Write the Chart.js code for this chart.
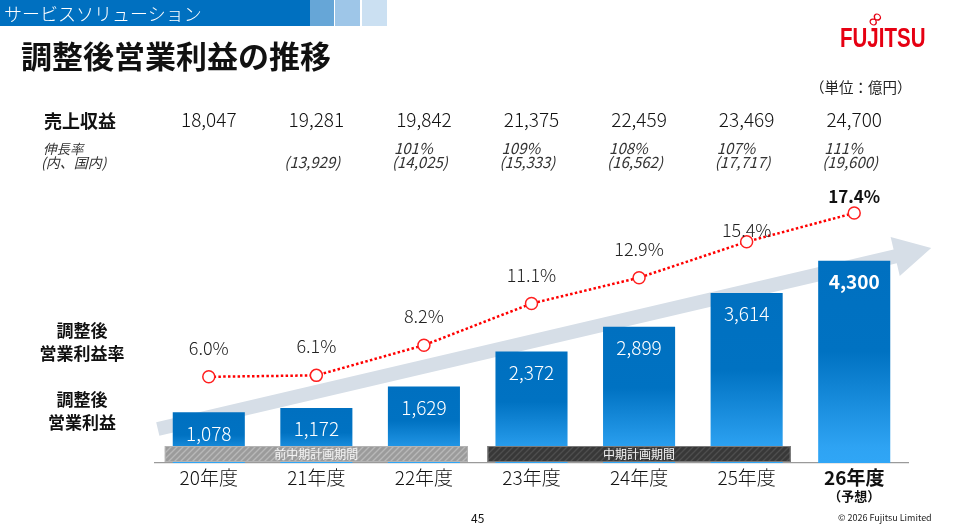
<!DOCTYPE html>
<html lang="ja">
<head>
<meta charset="utf-8">
<title>調整後営業利益の推移</title>
<script src="https://cdn.jsdelivr.net/npm/chart.js@4.4.1/dist/chart.umd.min.js"></script>
<style>
  body { margin: 0; background: #fff; font-family: "Noto Sans CJK JP", "Noto Sans", sans-serif; }
  #page { position: relative; width: 957px; height: 532px; overflow: hidden; }
  #chartBox { position: absolute; left: 0; top: 0; width: 957px; height: 532px; }
  .t { position: absolute; white-space: nowrap; color: #111; }
  .band { position: absolute; top: 0; height: 26px; }
</style>
</head>
<body>
<div id="page">
  <div id="chartBox"><canvas id="profit__chart"></canvas></div>

  <div class="band" style="left:0;width:310px;background:#0070C0;"></div>
  <div class="band" style="left:310px;width:24px;background:#66A6D7;"></div>
  <div class="band" style="left:335px;width:25px;background:#9EC6E8;"></div>
  <div class="band" style="left:362px;width:25px;background:#CBE0F2;"></div>
  <div class="t" style="left:4px;top:1px;font-size:18px;line-height:24px;color:#fff;font-weight:300;">サービスソリューション</div>

  <div class="t" style="left:21px;top:35px;font-size:31px;line-height:40px;font-weight:700;">調整後営業利益の推移</div>

  <div class="t" style="left:840px;top:22px;font-family:'Liberation Sans',sans-serif;font-weight:700;font-size:27px;line-height:32px;color:#E60012;transform:scaleX(0.76);transform-origin:0 0;">FUJITSU</div>
  <div class="t" style="left:866px;top:9px;font-family:'DejaVu Sans',sans-serif;font-size:21px;line-height:20px;color:#E60012;transform:rotate(-50deg);">∞</div>

  <div class="t" style="left:810px;top:77px;font-size:14.5px;line-height:20px;color:#222;">（単位：億円）</div>

  <div class="t" style="left:44px;top:109px;font-size:18px;line-height:22px;font-weight:700;">売上収益</div>
  <div class="t" style="left:43px;top:140px;font-size:13.5px;line-height:16px;font-style:italic;color:#333;">伸長率</div>
  <div class="t" style="left:41px;top:154px;font-size:14px;line-height:16px;font-style:italic;color:#333;">(内、国内)</div>

  <div class="t" style="left:30px;top:318px;width:104px;text-align:center;font-size:17px;line-height:23px;font-weight:700;">調整後<br>営業利益率</div>
  <div class="t" style="left:30px;top:387px;width:104px;text-align:center;font-size:17px;line-height:23px;font-weight:700;">調整後<br>営業利益</div>

  <div class="t" style="left:471px;top:510px;font-size:12px;line-height:16px;">45</div>
  <div class="t" style="left:838px;top:512px;font-size:9px;line-height:12px;color:#222;">© 2026 Fujitsu Limited</div>
</div>

<script>
// data
const categories = ['20年度', '21年度', '22年度', '23年度', '24年度', '25年度', '26年度'];
const adjProfit = [1078, 1172, 1629, 2372, 2899, 3614, 4300];
const adjMargin = [6.0, 6.1, 8.2, 11.1, 12.9, 15.4, 17.4];
const revenue = [18047, 19281, 19842, 21375, 22459, 23469, 24700];
const growthPct = [null, null, 101, 109, 108, 107, 111];
const domesticRev = [null, 13929, 14025, 15333, 16562, 17717, 19600];
const periodLabels = ['前中期計画期間', '中期計画期間'];
const periodRanges = [[0, 2], [3, 5]];

const FONT = '"Noto Sans CJK JP", "Noto Sans", sans-serif';
const fmt = (v) => v.toLocaleString('en-US');
const fmtPct = (v) => v.toFixed(1) + '%';

function stripePattern(ctx, base, stripe) {
    var c = document.createElement('canvas');
    c.width = 6; c.height = 6;
    var p = c.getContext('2d');
    p.fillStyle = base;
    p.fillRect(0, 0, 6, 6);
    p.strokeStyle = stripe;
    p.lineWidth = 1.4;
    p.beginPath();
    p.moveTo(-1, 1); p.lineTo(1, -1);
    p.moveTo(0, 6); p.lineTo(6, 0);
    p.moveTo(5, 7); p.lineTo(7, 5);
    p.stroke();
    return ctx.createPattern(c, 'repeat');
}

const slideDecor = {
    id: 'slideDecor',
    beforeDatasetsDraw(chart) {
        // big grey arrow behind the bars
        const ctx = chart.ctx;
        const x = chart.scales.x;
        const sx = x.getPixelForValue(0) - 51, sy = 429;
        const tx = x.getPixelForValue(6) + 77, ty = 248;
        const len = Math.hypot(tx - sx, ty - sy);
        const ux = (tx - sx) / len, uy = (ty - sy) / len;
        const nx = -uy, ny = ux;
        const hw = 7, headLen = 37, headHw = 20;
        const bx = tx - ux * headLen, by = ty - uy * headLen;
        ctx.save();
        ctx.fillStyle = '#D6DEE7';
        ctx.beginPath();
        ctx.moveTo(sx + nx * hw, sy + ny * hw);
        ctx.lineTo(bx + nx * hw, by + ny * hw);
        ctx.lineTo(bx + nx * headHw, by + ny * headHw);
        ctx.lineTo(tx, ty);
        ctx.lineTo(bx - nx * headHw, by - ny * headHw);
        ctx.lineTo(bx - nx * hw, by - ny * hw);
        ctx.lineTo(sx - nx * hw, sy - ny * hw);
        ctx.closePath();
        ctx.fill();
        ctx.restore();
    },
    afterDatasetsDraw(chart) {
        const ctx = chart.ctx;
        const x = chart.scales.x;
        ctx.save();

        // plan period bands over the foot of the bars
        periodRanges.forEach(function (r, i) {
            const left = x.getPixelForValue(r[0]) - 44;
            const right = x.getPixelForValue(r[1]) + 44;
            const top = 446, h = 16;
            ctx.fillStyle = i === 0 ? stripePattern(ctx, '#9B9B9B', '#B8B8B8') : stripePattern(ctx, '#383838', '#4E4E4E');
            ctx.fillRect(left, top, right - left, h);
            ctx.strokeStyle = i === 0 ? '#B4B4B4' : '#7A7A7A';
            ctx.lineWidth = 1;
            ctx.strokeRect(left + 0.5, top + 0.5, right - left - 1, h - 1);
            ctx.fillStyle = '#F4F4F4';
            ctx.font = '12px ' + FONT;
            ctx.textAlign = 'center';
            ctx.textBaseline = 'middle';
            ctx.fillText(periodLabels[i], (left + right) / 2, top + h / 2 + 0.5);
        });

        // bar values
        const bars = chart.getDatasetMeta(1).data;
        bars.forEach(function (bar, i) {
            const last = i === bars.length - 1;
            ctx.font = (last ? '700 ' : '300 ') + '19px ' + FONT;
            ctx.fillStyle = '#fff';
            ctx.textAlign = 'center';
            ctx.textBaseline = 'middle';
            ctx.fillText(fmt(adjProfit[i]), bar.x, bar.y + 21);
        });

        // margin labels
        const lift = [29, 29, 29, 28, 29, 12, 16];
        const pts = chart.getDatasetMeta(0).data;
        pts.forEach(function (pt, i) {
            const last = i === pts.length - 1;
            ctx.font = (last ? '700 17px ' : '300 18px ') + FONT;
            ctx.fillStyle = last ? '#111' : '#222';
            ctx.textAlign = 'center';
            ctx.textBaseline = 'middle';
            ctx.fillText(fmtPct(adjMargin[i]), pt.x, pt.y - lift[i]);
        });
        ctx.restore();
    },
    afterDraw(chart) {
        const ctx = chart.ctx;
        const x = chart.scales.x;
        ctx.save();
        ctx.textBaseline = 'middle';
        categories.forEach(function (c, i) {
            const cx = x.getPixelForValue(i);
            ctx.fillStyle = '#111';
            ctx.textAlign = 'center';
            ctx.font = '300 19px ' + FONT;
            ctx.fillText(fmt(revenue[i]), cx, 120);
            ctx.textAlign = 'left';
            ctx.fillStyle = '#333';
            ctx.font = 'italic 15px ' + FONT;
            if (growthPct[i] !== null) ctx.fillText(growthPct[i] + '%', cx - 30, 148);
            if (domesticRev[i] !== null) ctx.fillText('(' + fmt(domesticRev[i]) + ')', cx - 32, 162);
        });
        ctx.textAlign = 'center';
        ctx.fillStyle = '#111';
        ctx.font = '700 13px ' + FONT;
        ctx.fillText('（予想）', x.getPixelForValue(6), 496);
        ctx.restore();
    }
};

var ctx = document.getElementById('profit__chart');
var profitChart = new Chart(ctx, {
    data: {
        labels: categories,
        datasets: [{
            type: 'line',
            label: '調整後営業利益率',
            data: adjMargin,
            yAxisID: 'yRate',
            order: 0,
            borderColor: '#FF0000',
            borderWidth: 2.5,
            borderDash: [2.5, 2.3],
            borderCapStyle: 'butt',
            tension: 0,
            pointRadius: 6,
            pointBackgroundColor: '#fff',
            pointBorderColor: '#FF1F1F',
            pointBorderWidth: 1.5
        }, {
            type: 'bar',
            label: '調整後営業利益',
            data: adjProfit,
            yAxisID: 'y',
            order: 1,
            categoryPercentage: 1,
            barPercentage: 0.67,
            backgroundColor: function (c) {
                const y = c.chart.scales.y;
                if (c.type !== 'data' || !y) return '#0070C0';
                const top = y.getPixelForValue(c.raw);
                const base = y.getPixelForValue(0);
                if (!isFinite(top) || !isFinite(base) || top === base) return '#0070C0';
                const g = c.chart.ctx.createLinearGradient(0, top, 0, base);
                g.addColorStop(0, '#0070C0');
                g.addColorStop(0.45, '#0072C2');
                g.addColorStop(0.92, '#2EA3F3');
                g.addColorStop(1, '#30A6F6');
                return g;
            }
        }]
    },
    options: {
        responsive: true,
        maintainAspectRatio: false,
        animation: false,
        layout: { padding: { left: 155, right: 49, top: 180, bottom: 0 } },
        plugins: { legend: { display: false }, tooltip: { enabled: false } },
        scales: {
            x: {
                grid: { display: false, drawTicks: false },
                border: { display: true, color: '#9A9A9A', width: 1.2 },
                afterFit: function (s) { s.height = 69; },
                ticks: {
                    padding: 3,
                    color: '#111',
                    font: function (c) {
                        return { family: FONT, size: 19, weight: c.index === 6 ? '700' : '300' };
                    }
                }
            },
            y: { display: false, min: 0, max: 6020 },
            yRate: { display: false, min: 0, max: 19.7 }
        }
    },
    plugins: [slideDecor]
});
</script>
</body>
</html>
